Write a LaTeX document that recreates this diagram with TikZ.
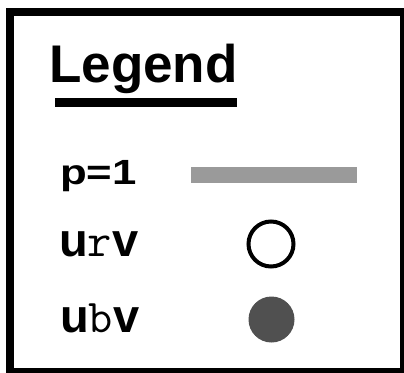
\documentclass[tikz,border=0pt]{standalone}
\usepackage{fontspec}
\setmainfont{Liberation Sans}
\definecolor{bargray}{HTML}{9A9A9A}
\definecolor{dotgray}{HTML}{505050}
\tikzset{
  lbl/.style={anchor=base west, inner sep=0pt, font=\bfseries},
  frame/.style={draw=black, line width=8pt},
}
\begin{document}
\begin{tikzpicture}[x=1pt,y=-1pt]
\useasboundingbox (0,0) rectangle (404,372);
\clip (0,0) rectangle (404,372);
\draw[frame] (10,12) rectangle (404,372);
\node[lbl, font=\fontsize{53}{60}\selectfont\bfseries] (title) at (49,82) {Legend};
\fill (55,98) rectangle (237,107);
\node[lbl, font=\fontsize{35}{40}\selectfont\bfseries, xscale=1.25] (p1) at (60,184) {p=1};
\fill[bargray] (191,167) rectangle (357,183);
\node[lbl, font=\fontsize{47}{50}\selectfont\bfseries] (urv) at (59,256) {u{\ttfamily\mdseries r}v};
\node[draw, circle, line width=4pt, minimum size=45pt, inner sep=0pt] (open) at (271,244) {};
\node[lbl, font=\fontsize{47}{50}\selectfont\bfseries] (ubv) at (60,332) {u{\ttfamily\mdseries b}v};
\node[fill=dotgray, circle, minimum size=46pt, inner sep=0pt] (dot) at (271.5,319.5) {};
\end{tikzpicture}
\end{document}
